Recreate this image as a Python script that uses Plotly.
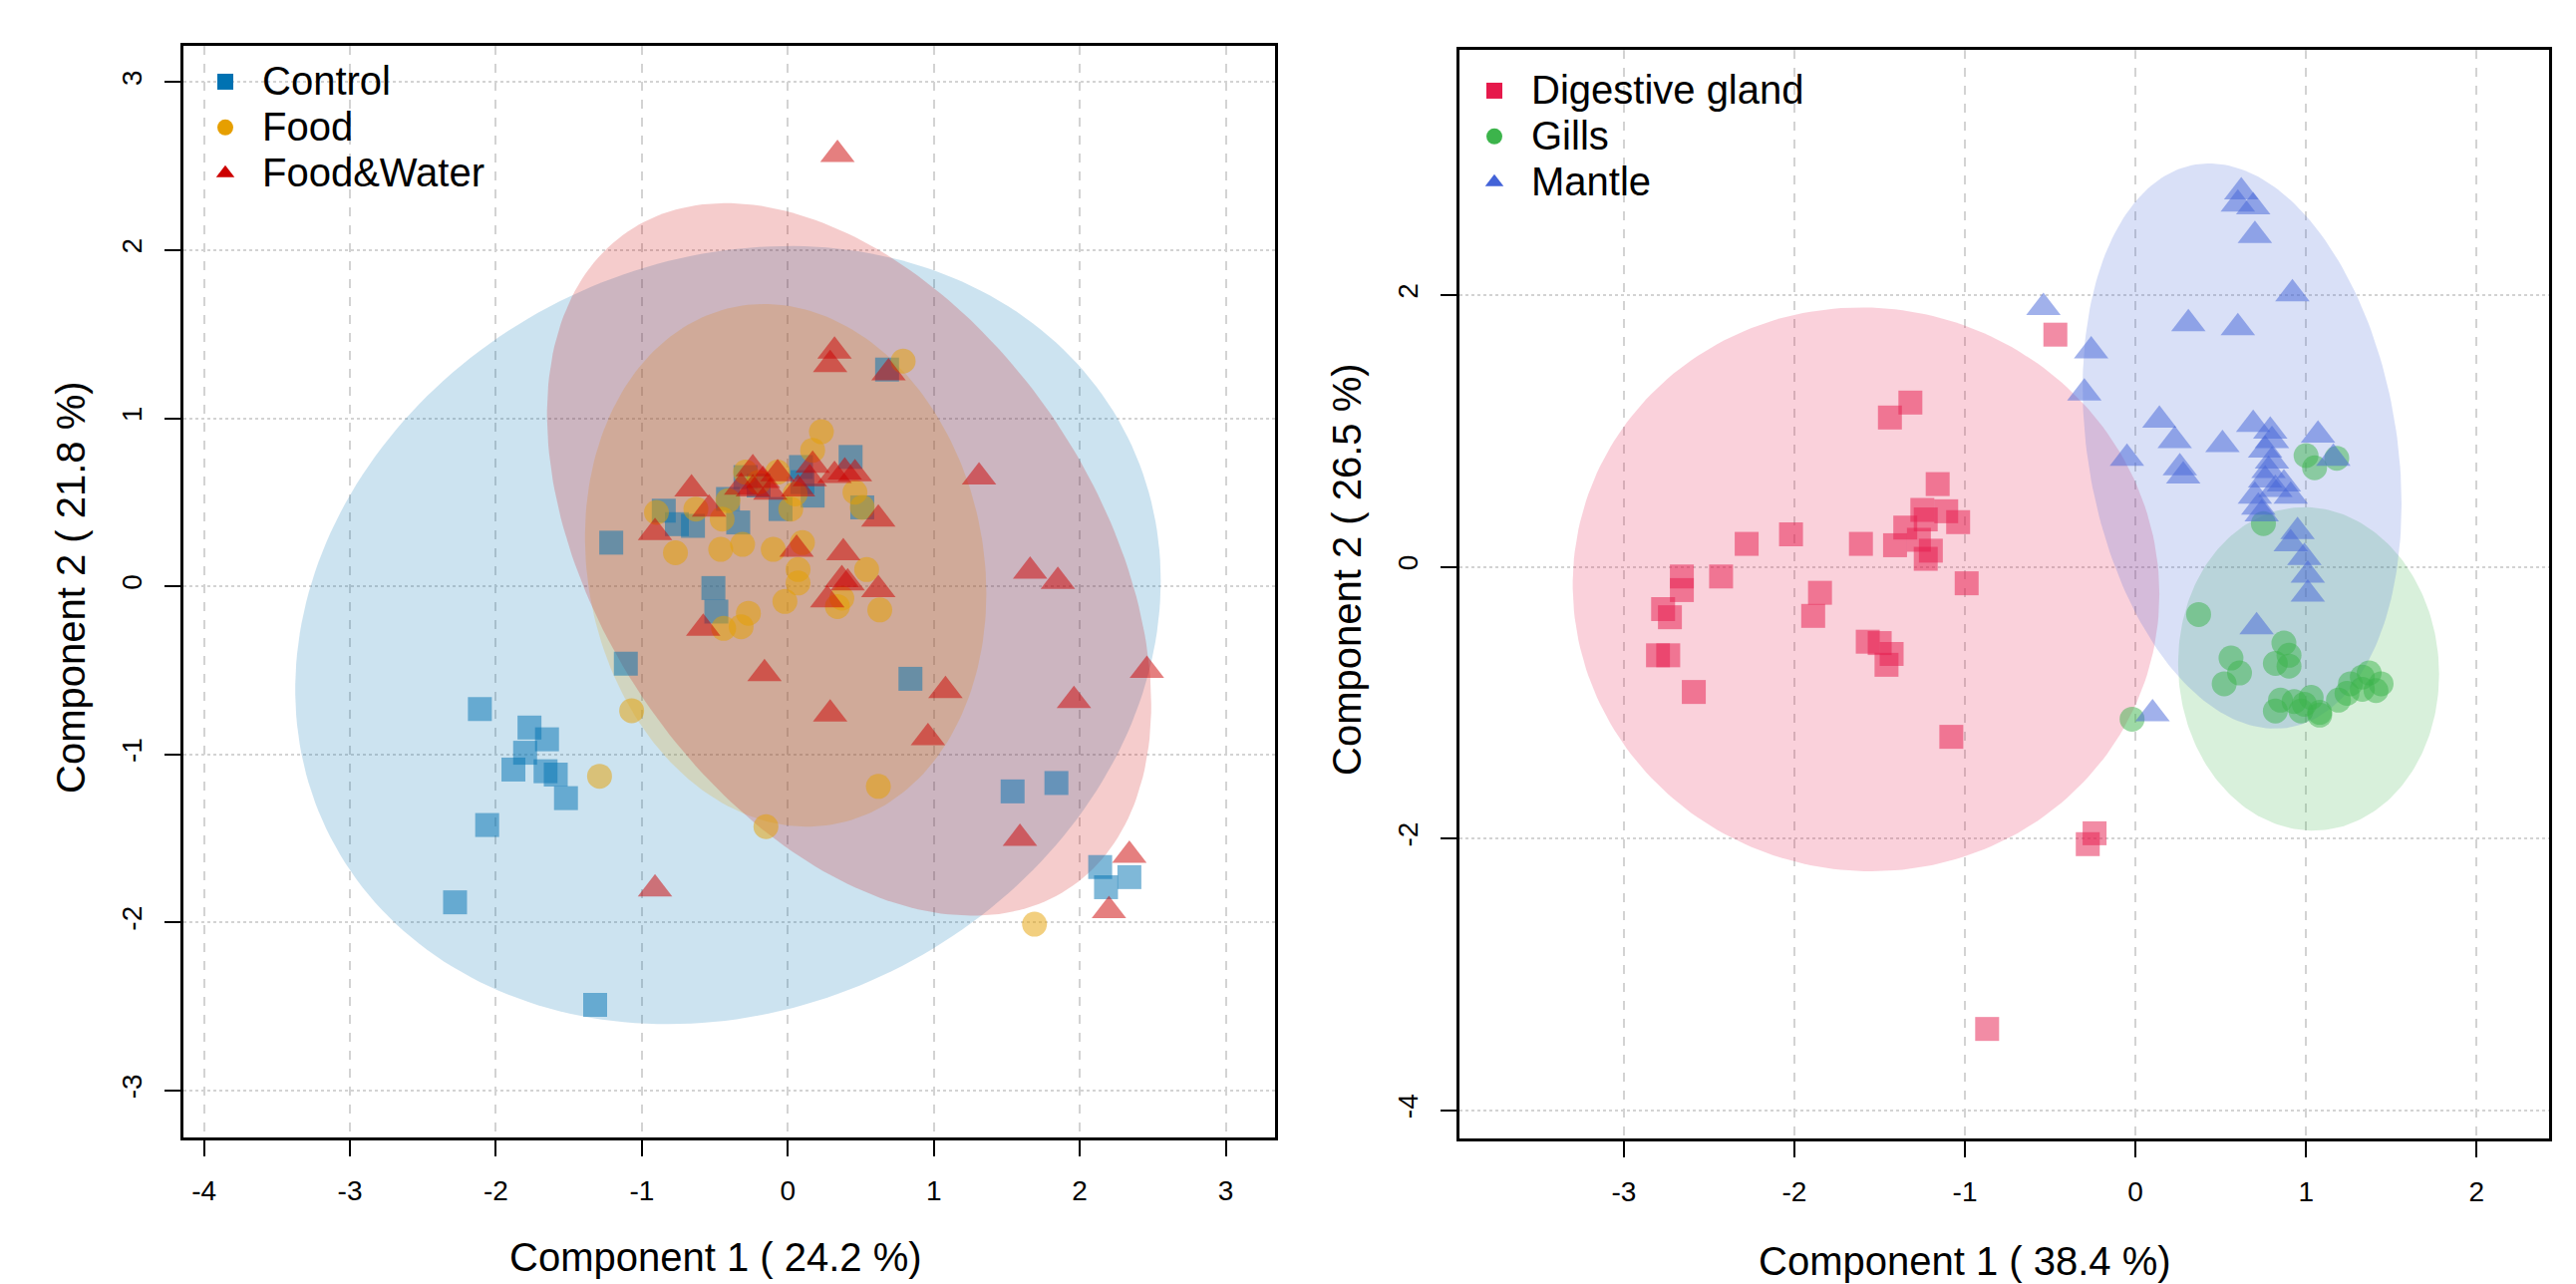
import numpy as np
import plotly.graph_objects as go

W, H = 2584, 1288
FONT = "Liberation Sans"

# ---------------- Left panel: treatment groups ----------------
left_groups = ["Control", "Food", "Food&Water"]
left_colors = ["#0072B2", "#E69F00", "#CC0000"]
left_symbols = ["square", "circle", "triangle-up"]

control_x = [0.68, 0.43, -1.21, -0.85, -0.65, -0.34, -0.41, 0.09, 0.17, -0.05, 0.51, -0.29,
             -0.51, -0.49, -1.11, 0.84, -2.11, -1.77, -1.65, -1.80, -1.88, -1.66, -1.59, -1.52,
             -2.06, -2.28, -1.32, 1.54, 1.84, 2.14, 2.18, 2.34, -0.76, 0.10, -0.20]
control_y = [1.29, 0.77, 0.26, 0.45, 0.36, 0.38, 0.52, 0.71, 0.54, 0.46, 0.47, 0.65,
             -0.01, -0.15, -0.46, -0.55, -0.73, -0.84, -0.91, -0.99, -1.09, -1.10, -1.12, -1.26,
             -1.42, -1.88, -2.49, -1.22, -1.17, -1.67, -1.79, -1.73, 0.37, 0.62, 0.60]

food_x = [0.79, 0.23, 0.17, -0.29, -0.07, 0.46, 0.51, -0.90, -0.63, -0.41, 0.02, -0.77,
          -0.46, -0.31, -0.10, 0.10, 0.54, 0.07, 0.07, -0.02, 0.37, 0.63, -0.27, -0.32,
          -0.44, 0.34, -1.07, -1.29, -0.15, 0.62, 1.69, -0.20, 0.05, -0.45]
food_y = [1.34, 0.92, 0.81, 0.68, 0.68, 0.56, 0.47, 0.44, 0.46, 0.51, 0.46, 0.20,
          0.22, 0.25, 0.22, 0.26, 0.10, 0.10, 0.02, -0.09, -0.07, -0.14, -0.16, -0.24,
          -0.25, -0.12, -0.74, -1.13, -1.43, -1.19, -2.01, 0.62, 0.55, 0.40]

fw_x = [0.34, 0.32, 0.29, 0.69, 1.31, -0.24, -0.66, -0.54, -0.91, 0.17, 0.39, 0.46,
        0.32, 0.15, -0.07, -0.17, -0.32, -0.12, -0.24, 0.07, 0.62, 0.06, 0.38, 0.37,
        0.41, 0.27, 0.62, 1.66, 1.85, -0.58, -0.16, 0.29, 1.08, 0.96, 1.96, 2.46,
        1.59, -0.91, 2.34, 2.20]
fw_y = [2.57, 1.40, 1.32, 1.27, 0.65, 0.70, 0.58, 0.46, 0.32, 0.72, 0.68, 0.67,
        0.66, 0.64, 0.67, 0.63, 0.59, 0.56, 0.58, 0.58, 0.40, 0.22, 0.20, 0.04,
        0.02, -0.08, -0.02, 0.09, 0.03, -0.25, -0.52, -0.76, -0.62, -0.90, -0.68, -0.50,
        -1.50, -1.80, -1.60, -1.93]

# ellipse parameters (center, half-width, half-height, covariance term)
left_ell_cx = [-0.41, -0.015, 0.42]
left_ell_cy = [-0.29, 0.125, 0.16]
left_ell_hw = [2.965, 1.375, 2.07]
left_ell_hh = [2.315, 1.555, 2.12]
left_ell_cxy = [0.96, -0.23, -1.79]

# ---------------- Right panel: tissues ----------------
right_groups = ["Digestive gland", "Gills", "Mantle"]
right_colors = ["#E6194B", "#3CB44B", "#4363D8"]
right_symbols = ["square", "circle", "triangle-up"]

dg_x = [-0.47, -1.32, -1.44, -1.16, -1.25, -1.11, -1.04, -1.35, -1.23, -1.41, -1.27, -1.20,
        -1.23, -1.61, -2.02, -2.28, -2.43, -0.99, -1.85, -2.66, -2.66, -2.77, -2.73, -1.89,
        -2.80, -2.74, -2.59, -1.57, -1.50, -1.43, -1.46, -1.08, -0.24, -0.28, -0.87]
dg_y = [1.71, 1.21, 1.10, 0.61, 0.42, 0.41, 0.33, 0.29, 0.35, 0.16, 0.20, 0.12,
        0.06, 0.17, 0.24, 0.17, -0.07, -0.12, -0.19, -0.07, -0.17, -0.31, -0.37, -0.36,
        -0.65, -0.65, -0.92, -0.55, -0.56, -0.64, -0.72, -1.25, -1.96, -2.04, -3.40]

gills_x = [1.00, 1.05, 1.18, 0.75, 0.37, 0.87, 0.56, 0.82, 0.90, 0.90, 0.61, 0.52,
           0.85, 0.93, 0.99, 0.82, 0.97, 1.08, 1.03, 1.19, 1.26, 1.33, 1.37, 1.44,
           1.24, 1.41, 1.33, 1.08, -0.02]
gills_y = [0.82, 0.73, 0.80, 0.32, -0.35, -0.56, -0.67, -0.71, -0.65, -0.73, -0.78, -0.86,
           -0.98, -0.99, -1.01, -1.06, -1.06, -1.07, -0.96, -0.98, -0.86, -0.81, -0.78, -0.86,
           -0.93, -0.91, -0.90, -1.09, -1.12]

mantle_x = [-0.54, -0.26, -0.30, 0.62, 0.60, 0.69, 0.70, 0.92, 0.31, 0.60, 0.14, 0.23,
            0.51, 0.69, 0.79, 0.80, 1.07, 1.16, -0.05, 0.26, 0.28, 0.76, 0.80, 0.78,
            0.76, 0.87, 0.82, 0.91, 0.70, 0.72, 0.74, 0.95, 0.91, 0.99, 1.01, 1.01,
            0.71, 0.10]
mantle_y = [1.91, 1.59, 1.28, 2.76, 2.67, 2.65, 2.44, 2.01, 1.79, 1.76, 1.08, 0.93,
            0.90, 1.05, 1.00, 0.93, 0.97, 0.80, 0.80, 0.73, 0.67, 0.86, 0.78, 0.71,
            0.64, 0.61, 0.57, 0.52, 0.52, 0.44, 0.39, 0.26, 0.17, 0.07, -0.06, -0.20,
            -0.44, -1.08]

right_ell_cx = [-1.58, 1.015, 0.625]
right_ell_cy = [-0.165, -0.75, 0.89]
right_ell_hw = [1.72, 0.765, 0.935]
right_ell_hh = [2.075, 1.19, 2.08]
right_ell_cxy = [-0.06, -0.03, -0.40]

left_x_ticks = [-4, -3, -2, -1, 0, 1, 2, 3]
left_y_ticks = [-3, -2, -1, 0, 1, 2, 3]
right_x_ticks = [-3, -2, -1, 0, 1, 2]
right_y_ticks = [-4, -2, 0, 2]

titles = ["Component 1 ( 24.2 %)", "Component 2 ( 21.8 %)",
          "Component 1 ( 38.4 %)", "Component 2 ( 26.5 %)"]


def rgba(hexc, a):
    h = hexc.lstrip("#")
    r, g, b = int(h[0:2], 16), int(h[2:4], 16), int(h[4:6], 16)
    return f"rgba({r},{g},{b},{a})"


def ellipse(cx, cy, hw, hh, cxy, n=240):
    sxx, syy = hw ** 2, hh ** 2
    l11 = np.sqrt(sxx)
    l21 = cxy / l11
    l22 = np.sqrt(syy - l21 ** 2)
    t = np.linspace(0, 2 * np.pi, n)
    u, v = np.cos(t), np.sin(t)
    return cx + l11 * u, cy + l21 * u + l22 * v


def tick_text(vals):
    return [str(v) for v in vals]


fig = go.Figure()


def add_panel(xa, ya, legend, groups, colors, symbols, xs, ys, ecx, ecy, ehw, ehh, ecxy):
    for i in range(len(groups)):
        ex, ey = ellipse(ecx[i], ecy[i], ehw[i], ehh[i], ecxy[i])
        fig.add_trace(go.Scatter(x=ex, y=ey, mode="lines", fill="toself",
                                 fillcolor=rgba(colors[i], 0.2), line=dict(width=0),
                                 hoverinfo="skip", showlegend=False, xaxis=xa, yaxis=ya))
    for i in range(len(groups)):
        size = 30 if symbols[i] == "triangle-up" else (25 if symbols[i] == "circle" else 24)
        fig.add_trace(go.Scatter(x=xs[i], y=ys[i], mode="markers", name=groups[i],
                                 marker=dict(symbol=symbols[i], size=size,
                                             color=rgba(colors[i], 0.5), line=dict(width=0)),
                                 showlegend=False, xaxis=xa, yaxis=ya))
    for i in range(len(groups)):
        fig.add_trace(go.Scatter(x=[None], y=[None], mode="markers",
                                 name=f'<span style="font-size:40px">{groups[i]}</span>',
                                 marker=dict(symbol=symbols[i], size=20, color=colors[i],
                                             line=dict(width=0)),
                                 showlegend=True, legend=legend, xaxis=xa, yaxis=ya))


add_panel("x", "y", "legend", left_groups, left_colors, left_symbols,
          [control_x, food_x, fw_x], [control_y, food_y, fw_y],
          left_ell_cx, left_ell_cy, left_ell_hw, left_ell_hh, left_ell_cxy)
add_panel("x2", "y2", "legend2", right_groups, right_colors, right_symbols,
          [dg_x, gills_x, mantle_x], [dg_y, gills_y, mantle_y],
          right_ell_cx, right_ell_cy, right_ell_hw, right_ell_hh, right_ell_cxy)

axis_common = dict(showline=True, mirror=True, linecolor="black", linewidth=3,
                   ticks="outside", ticklen=16, tickwidth=2, tickcolor="black",
                   showgrid=True, gridcolor="#D3D3D3", gridwidth=2, zeroline=False,
                   tickfont=dict(family=FONT, size=28, color="black"))


def px_x(p):
    return p / W


def px_y(p):
    return 1 - p / H


legend_common = dict(xanchor="left", yanchor="top", bgcolor="rgba(0,0,0,0)",
                     itemwidth=64, tracegroupgap=0,
                     font=dict(family=FONT, size=33, color="black"))

fig.update_layout(
    width=W, height=H, margin=dict(l=0, r=0, t=0, b=0),
    paper_bgcolor="white", plot_bgcolor="white",
    font=dict(family=FONT, color="black"),
    xaxis=dict(domain=[px_x(184), px_x(1279)], range=[-4.141, 3.338], tickvals=left_x_ticks,
               ticktext=tick_text(left_x_ticks),
               griddash="dash", ticklabelstandoff=10, anchor="y", **axis_common),
    yaxis=dict(domain=[px_y(1141), px_y(46)], range=[-3.279, 3.216], tickvals=left_y_ticks,
               ticktext=tick_text(left_y_ticks),
               griddash="dot", tickangle=-90, ticklabelstandoff=12, anchor="x", **axis_common),
    xaxis2=dict(domain=[px_x(1464), px_x(2557)], range=[-3.964, 2.425], tickvals=right_x_ticks,
                ticktext=tick_text(right_x_ticks),
                griddash="dash", ticklabelstandoff=10, anchor="y2", **axis_common),
    yaxis2=dict(domain=[px_y(1142), px_y(50)], range=[-4.206, 3.806], tickvals=right_y_ticks,
                ticktext=tick_text(right_y_ticks),
                griddash="dot", tickangle=-90, ticklabelstandoff=12, anchor="x2", **axis_common),
    legend=dict(x=px_x(189), y=px_y(54), **legend_common),
    legend2=dict(x=px_x(1462), y=px_y(63), **legend_common),
)

ann_font = dict(family=FONT, size=40, color="black")
fig.add_annotation(text=titles[0], x=px_x(718), y=px_y(1261), xref="paper", yref="paper",
                   showarrow=False, font=ann_font, xanchor="center", yanchor="middle")
fig.add_annotation(text=titles[1], x=px_x(71), y=px_y(589), xref="paper", yref="paper",
                   showarrow=False, font=ann_font, textangle=-90, xanchor="center", yanchor="middle")
fig.add_annotation(text=titles[2], x=px_x(1971), y=px_y(1265), xref="paper", yref="paper",
                   showarrow=False, font=ann_font, xanchor="center", yanchor="middle")
fig.add_annotation(text=titles[3], x=px_x(1351), y=px_y(571), xref="paper", yref="paper",
                   showarrow=False, font=ann_font, textangle=-90, xanchor="center", yanchor="middle")

fig.write_html("out.html", config={"displayModeBar": False},
               post_script="document.body.style.margin='0';")
